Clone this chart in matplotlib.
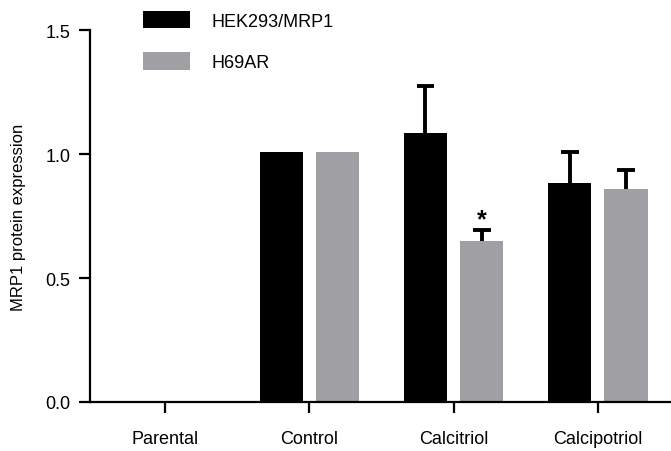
import numpy as np
import matplotlib.pyplot as plt

plt.rcParams['font.family'] = ['Liberation Sans', 'DejaVu Sans']

groups = ["Parental", "Control", "Calcitriol", "Calcipotriol"]
hek_mean = [0.0, 1.01, 1.085, 0.885]
hek_err = [0.0, 0.0, 0.19, 0.125]
h69_mean = [0.0, 1.01, 0.65, 0.86]
h69_err = [0.0, 0.0, 0.045, 0.076]
sig_marks = ["", "", "*", ""]  # vs control, H69AR only

BLACK = "#000000"
GRAY = "#a09fa4"

fig = plt.figure(figsize=(6.71, 4.52), dpi=100)
ax = fig.add_axes([90 / 671, 1 - 403 / 452, 580 / 671, 372 / 452])

x = np.arange(len(groups))
w = 0.30
off = 0.195
cap = 0.062
for xs, m, e, c, lab in [(x - off, hek_mean, hek_err, BLACK, "HEK293/MRP1"),
                         (x + off, h69_mean, h69_err, GRAY, "H69AR")]:
    m = np.array(m); e = np.array(e)
    ax.bar(xs, m, width=w, color=c, label=lab, zorder=2)
    has = e > 0
    # upper-only error bars
    ax.vlines(xs[has], m[has], m[has] + e[has], color=BLACK, lw=2.8, zorder=3)
    ax.hlines(m[has] + e[has], xs[has] - cap, xs[has] + cap, color=BLACK, lw=2.8, zorder=3)

for i, s in enumerate(sig_marks):
    if s:
        ax.text(x[i] + off, h69_mean[i] + h69_err[i] + 0.04, s, ha="center",
                va="center", fontsize=18, fontweight="bold")

ax.set_xlim(-0.52, 3.5)
ax.set_ylim(0, 1.5)
ax.set_yticks([0, 0.5, 1.0, 1.5])
ax.set_yticklabels(["0.0", "0.5", "1.0", "1.5"])
ax.set_xticks(x)
ax.set_xticklabels(groups)
for side in ["top", "right"]:
    ax.spines[side].set_visible(False)
for side in ["left", "bottom"]:
    ax.spines[side].set_linewidth(1.6)
ax.tick_params(axis="both", length=8, width=1.6, labelsize=13, pad=6)
ax.tick_params(axis="x", pad=12)
ax.set_ylabel("MRP1 protein expression", fontsize=12, labelpad=14)

fig.legend(loc="upper left", bbox_to_anchor=(143 / 671, 1 - 12 / 452), frameon=False,
           fontsize=13, handlelength=2.6, handleheight=1.1, handletextpad=1.2,
           labelspacing=1.25, borderpad=0, borderaxespad=0)

fig.savefig("out.png", dpi=100)
